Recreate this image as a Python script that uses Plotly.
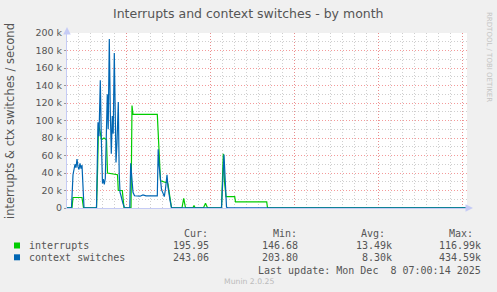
import numpy as np
import plotly.graph_objects as go

# ---- data (time in days from graph start, values in k/second) ----
ctx_t = [0, 0.375, 0.5, 0.583, 0.667, 0.75, 0.833, 0.917, 1.0, 1.083, 1.167, 1.25, 1.333, 1.417,
         2.458, 2.542, 2.583, 2.667, 2.775, 2.858, 2.958, 3.025, 3.108, 3.192, 3.275, 3.358, 3.433,
         3.525, 3.608, 3.692, 3.775, 3.85, 3.942, 4.017, 4.083, 4.167, 4.275, 4.35, 4.417, 4.5,
         4.583, 4.667, 4.792, 5.233, 5.308, 5.392, 5.5, 5.625, 6.083, 6.333, 6.583, 7.525, 7.6,
         7.667, 7.75, 7.875, 8.0, 8.108, 8.208, 8.333, 8.417, 8.5, 8.583, 8.708, 12.875, 13.083,
         13.167, 13.292, 13.375, 33.333]
ctx_v = [0.3, 0.3, 38, 44, 50, 46, 56, 47, 44, 51, 45, 49, 20, 0.3,
         0.3, 60, 98, 82, 146, 80, 28, 33, 27, 34, 80, 130, 90,
         193, 110, 62, 105, 85, 177, 95, 52, 75, 121, 40, 18, 14,
         8, 5, 0.3, 0.3, 51, 35, 18, 14, 13.5, 15, 13.8, 13.8, 67,
         50, 36, 21, 17, 13, 22, 38, 24, 14, 9, 0.3, 0.3, 61,
         35, 1, 0.3, 0.24]

int_t = [0, 0.417, 0.5, 1.25, 1.375, 2.458, 2.542, 2.625, 2.75, 2.875, 3.083, 3.292, 3.375, 3.75,
         4.208, 4.275, 4.608, 4.75, 5.333, 5.417, 5.5, 7.525, 7.6, 7.708, 7.792, 8.25, 8.333,
         8.417, 8.5, 8.625, 8.708, 9.583, 9.725, 9.875, 10.5, 10.583, 10.667, 11.375, 11.542,
         11.708, 12.875, 13.025, 13.125, 13.25, 13.975, 14.042, 16.642, 16.708, 33.333]
int_v = [0.2, 0.2, 12, 12, 0.2, 0.2, 40, 95, 88, 78, 80, 78, 40, 39,
         38, 20, 20, 0.2, 0.2, 117, 107, 107, 88, 50, 31, 29, 31,
         27, 20, 8, 0.2, 0.2, 11, 0.2, 0.2, 3, 0.2, 0.2, 5.5,
         0.2, 0.2, 62, 30, 13, 13, 7, 7, 0.2, 0.2]

week_labels = ["Week 45", "Week 46", "Week 47", "Week 48", "Week 49"]
week_centers = [1.417, 8.417, 15.417, 22.417, 29.417]
week_starts = [4.917, 11.917, 18.917, 25.917, 32.917]
day_starts = [float(d) for d in np.arange(0.917, 33.3, 1.0)]
y_ticks = list(range(0, 200001, 20000))
y_minor = list(range(10000, 200000, 20000))
y_ticktext = ["0"] + [f"{v // 1000} k" for v in y_ticks[1:]]

legend_names = ["interrupts", "context switches"]
legend_colors = ["#00cc00", "#0066b3"]
stat_cur = ["195.95", "243.06"]
stat_min = ["146.68", "203.80"]
stat_avg = ["13.49k", "8.30k"]
stat_max = ["116.99k", "434.59k"]
last_update = "Last update: Mon Dec \u00a08 07:00:14 2025"

# ---- layout helpers ----
W, H = 497, 292
L, R, T, B = 67, 467, 33, 208
XR = [0, 33.333]


def px(x):
    return (x - L) / (R - L)


def py(y):
    return (B - y) / (B - T)


TXT = "#555555"
SANS = "DejaVu Sans"
MONO = "DejaVu Sans Mono"
MGRID = "rgba(240,120,120,0.75)"
GRID = "rgba(175,175,175,0.6)"
DOT = "1px,2px"

fig = go.Figure()
fig.add_trace(go.Scatter(x=int_t, y=[v * 1000 for v in int_v], mode="lines",
                         line=dict(color=legend_colors[0], width=1.2),
                         showlegend=False, hoverinfo="skip"))
fig.add_trace(go.Scatter(x=ctx_t, y=[v * 1000 for v in ctx_v], mode="lines",
                         line=dict(color=legend_colors[1], width=1.2),
                         showlegend=False, hoverinfo="skip"))

anns = []
anns.append(dict(text="Interrupts and context switches - by month", x=px(248), y=py(13.5),
                 font=dict(family=SANS, size=12.5, color=TXT)))
anns.append(dict(text="interrupts & ctx switches / second", x=px(10), y=py(121), textangle=-90,
                 font=dict(family=SANS, size=11.5, color=TXT)))
anns.append(dict(text="RRDTOOL / TOBI OETIKER", x=px(489), y=py(57), textangle=90,
                 font=dict(family=SANS, size=7, color="#c4c4c4")))
anns.append(dict(text="Munin 2.0.25", x=px(249), y=py(281.5),
                 font=dict(family=SANS, size=7.7, color="#bbbbbb")))
for hx, ht in [(181.7, "Cur:"), (270.7, "Min:"), (359.3, "Avg:"), (447.3, "Max:")]:
    anns.append(dict(text=ht, x=px(hx), y=py(233.5), xanchor="left",
                     font=dict(family=MONO, size=10, color=TXT)))
shapes = []
for i, yy in enumerate([245.5, 257.3]):
    anns.append(dict(text=legend_names[i], x=px(26.7), y=py(yy), xanchor="left",
                     font=dict(family=MONO, size=10, color=TXT)))
    for ex, vals in [(211, stat_cur), (300, stat_min), (394, stat_avg), (483.3, stat_max)]:
        anns.append(dict(text=vals[i], x=px(ex), y=py(yy), xanchor="right",
                         font=dict(family=MONO, size=10, color=TXT)))
    shapes.append(dict(type="rect", xref="paper", yref="paper",
                       x0=px(14), x1=px(20), y0=py(yy + 3), y1=py(yy - 3),
                       fillcolor=legend_colors[i], line=dict(width=0)))
anns.append(dict(text=last_update, x=px(482.7), y=py(270), xanchor="right",
                 font=dict(family=MONO, size=10, color=TXT)))
for a in anns:
    a.setdefault("xanchor", "center")
    a.update(xref="paper", yref="paper", showarrow=False, yanchor="middle")

# axis arrows
AX = "#c5cbf5"
anns.append(dict(x=px(67), y=py(27), ax=0, ay=5, xref="paper", yref="paper", text="",
                 showarrow=True, arrowhead=2, arrowsize=1, arrowwidth=1.5, arrowcolor=AX))
anns.append(dict(x=px(473), y=py(208), ax=-6, ay=0, xref="paper", yref="paper", text="",
                 showarrow=True, arrowhead=2, arrowsize=1, arrowwidth=1.5, arrowcolor=AX))

fig.update_layout(
    width=W, height=H, margin=dict(l=L, r=W - R, t=T, b=H - B),
    paper_bgcolor="#f0f0f0", plot_bgcolor="#ffffff",
    annotations=anns, shapes=shapes, showlegend=False,
    xaxis=dict(range=XR, tickmode="array", tickvals=week_starts, showticklabels=False,
               ticks="", showgrid=True, gridcolor=MGRID, griddash=DOT,
               gridwidth=1, zeroline=False, showline=True, linecolor=AX, linewidth=1,
               minor=dict(tickmode="array", tickvals=day_starts, showgrid=True, gridcolor=GRID,
                          griddash=DOT, gridwidth=1, ticks="")),
    xaxis2=dict(range=XR, overlaying="x", side="bottom", tickmode="array", tickvals=week_centers,
                ticktext=week_labels, showgrid=False, zeroline=False, ticks="",
                tickfont=dict(family=SANS, size=9.5, color=TXT)),
    yaxis=dict(range=[0, 200000], tickmode="array", tickvals=y_ticks, ticktext=y_ticktext,
               tickfont=dict(family=SANS, size=9.5, color=TXT), ticks="outside", ticklen=2,
               tickcolor="#999999", showgrid=True, gridcolor=MGRID,
               griddash=DOT, zeroline=False, showline=True, linecolor=AX, linewidth=1,
               minor=dict(tickmode="array", tickvals=y_minor, showgrid=True, gridcolor=GRID,
                          griddash=DOT, ticks="")),
)

fig.write_html("out.html")
